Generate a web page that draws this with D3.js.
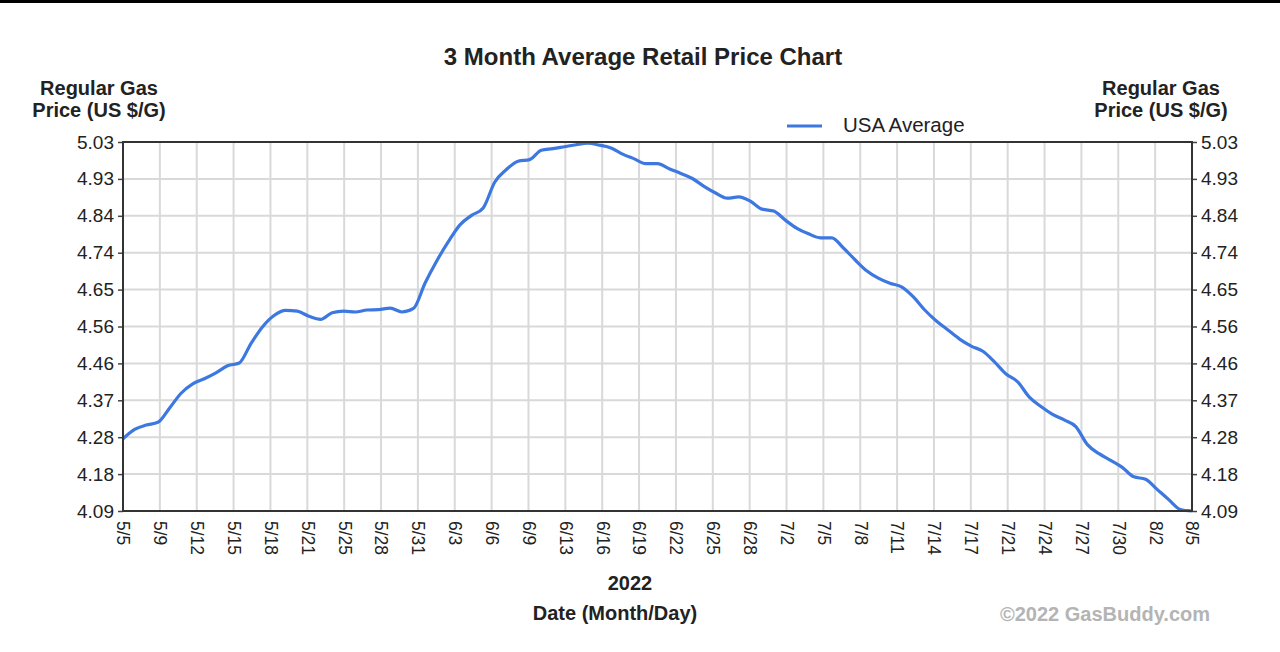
<!DOCTYPE html>
<html>
<head>
<meta charset="utf-8">
<script src="https://cdn.jsdelivr.net/npm/d3@7"></script>
<style>
  html, body { margin: 0; padding: 0; background: #fff; }
  svg { display: block; font-family: "Liberation Sans", Arial, sans-serif; }
</style>
</head>
<body>
<svg id="chart" width="1280" height="652"></svg>
<script>
"use strict"

// daily USA average regular gas price, 5/5/2022 .. 8/5/2022
const startDay = "2022-05-05"
const endDay = "2022-08-05"
const usaAverage = [
    4.274, 4.298, 4.309, 4.316, 4.352, 4.390, 4.414, 4.427, 4.442, 4.460,
    4.467, 4.516, 4.559, 4.588, 4.601, 4.599, 4.586, 4.578, 4.595, 4.599,
    4.597, 4.602, 4.603, 4.607, 4.597, 4.606, 4.671, 4.727, 4.776, 4.819,
    4.843, 4.862, 4.928, 4.960, 4.981, 4.985, 5.009, 5.013, 5.018, 5.023,
    5.027, 5.022, 5.015, 4.999, 4.987, 4.975, 4.975, 4.962, 4.950, 4.937,
    4.917, 4.900, 4.887, 4.890, 4.879, 4.859, 4.854, 4.831, 4.810, 4.796,
    4.786, 4.786, 4.760, 4.730, 4.702, 4.683, 4.670, 4.661, 4.636, 4.602,
    4.574, 4.551, 4.528, 4.510, 4.497, 4.470, 4.439, 4.419, 4.380, 4.356,
    4.336, 4.322, 4.305, 4.259, 4.236, 4.219, 4.201, 4.177, 4.171, 4.145,
    4.119, 4.094, 4.090
]

const xTickLabels = ["5/5", "5/9", "5/12", "5/15", "5/18", "5/21", "5/25", "5/28", "5/31",
    "6/3", "6/6", "6/9", "6/13", "6/16", "6/19", "6/22", "6/25", "6/28",
    "7/2", "7/5", "7/8", "7/11", "7/14", "7/17", "7/21", "7/24", "7/27", "7/30",
    "8/2", "8/5"]
const yTickLabels = ["4.09", "4.18", "4.28", "4.37", "4.46", "4.56", "4.65", "4.74", "4.84", "4.93", "5.03"]
const yDomain = [4.09, 5.03]

const plot = { left: 123, right: 1192, top: 142, bottom: 511 }

const parse = d3.timeParse("%Y-%m-%d")
const days = d3.timeDay.range(parse(startDay), d3.timeDay.offset(parse(endDay), 1))
const data = days.map((d, i) => ({ date: d, value: usaAverage[i] }))

const svg = d3.select("#chart")

// thin black band at the very top of the screenshot
svg.append("rect").attr("x", 0).attr("y", 0).attr("width", 1280).attr("height", 3).attr("fill", "#000")

const x = d3.scaleTime().domain([parse(startDay), parse(endDay)]).range([plot.left, plot.right])
const xTicks = d3.scalePoint().domain(xTickLabels).range([plot.left, plot.right])
const y = d3.scaleLinear().domain(yDomain).range([plot.bottom, plot.top])
const yTicks = d3.scalePoint().domain(yTickLabels).range([plot.bottom, plot.top])

// grid
const grid = svg.append("g").attr("stroke", "#d9d9d9").attr("stroke-width", 2)
grid.selectAll("line.v")
    .data(xTickLabels)
    .enter().append("line")
    .attr("x1", d => xTicks(d)).attr("x2", d => xTicks(d))
    .attr("y1", plot.top).attr("y2", plot.bottom)
grid.selectAll("line.h")
    .data(yTickLabels)
    .enter().append("line")
    .attr("x1", plot.left).attr("x2", plot.right)
    .attr("y1", d => yTicks(d)).attr("y2", d => yTicks(d))

// left / right axes
const leftAxis = svg.append("g")
    .attr("transform", "translate(" + plot.left + ",0)")
    .call(d3.axisLeft(yTicks).tickSize(5).tickSizeOuter(0).tickPadding(4))
const rightAxis = svg.append("g")
    .attr("transform", "translate(" + plot.right + ",0)")
    .call(d3.axisRight(yTicks).tickSize(5).tickSizeOuter(0).tickPadding(4))
;[leftAxis, rightAxis].forEach(a => {
    a.select(".domain").remove()
    a.selectAll("line").attr("stroke", "#444").attr("stroke-width", 1.5)
    a.selectAll("text").style("font-size", "19px").attr("fill", "#222")
        .style("font-family", "'Liberation Sans', Arial, sans-serif")
})

// bottom axis with rotated labels
const bottomAxis = svg.append("g")
    .attr("transform", "translate(0," + plot.bottom + ")")
    .call(d3.axisBottom(xTicks).tickSize(0).tickSizeOuter(0))
bottomAxis.select(".domain").remove()
bottomAxis.selectAll("text")
    .attr("transform", "rotate(90)")
    .attr("x", 10).attr("y", 0).attr("dy", "0.35em")
    .style("text-anchor", "start")
    .style("font-size", "17.5px")
    .style("font-family", "'Liberation Sans', Arial, sans-serif")
    .attr("fill", "#222")

// price line
const line = d3.line()
    .x(d => x(d.date))
    .y(d => y(d.value))
    .curve(d3.curveMonotoneX)
svg.append("path")
    .datum(data)
    .attr("fill", "none")
    .attr("stroke", "#3c78e0")
    .attr("stroke-width", 3.2)
    .attr("stroke-linejoin", "round")
    .attr("d", line)

// plot border
svg.append("rect")
    .attr("x", plot.left).attr("y", plot.top)
    .attr("width", plot.right - plot.left).attr("height", plot.bottom - plot.top)
    .attr("fill", "none").attr("stroke", "#333").attr("stroke-width", 2)

// titles
svg.append("text").attr("x", 643).attr("y", 65).attr("text-anchor", "middle")
    .style("font-size", "24px").style("font-weight", "bold").attr("fill", "#222")
    .text("3 Month Average Retail Price Chart")

const axisTitle = [["Regular Gas", 95], ["Price (US $/G)", 117]]
axisTitle.forEach(t => {
    svg.append("text").attr("x", 99).attr("y", t[1]).attr("text-anchor", "middle")
        .style("font-size", "20px").style("font-weight", "bold").attr("fill", "#222").text(t[0])
    svg.append("text").attr("x", 1161).attr("y", t[1]).attr("text-anchor", "middle")
        .style("font-size", "20px").style("font-weight", "bold").attr("fill", "#222").text(t[0])
})

// legend
svg.append("line").attr("x1", 787).attr("x2", 822).attr("y1", 126).attr("y2", 126)
    .attr("stroke", "#3c78e0").attr("stroke-width", 3.2)
svg.append("text").attr("x", 843).attr("y", 132)
    .style("font-size", "20.5px").attr("fill", "#222").text("USA Average")

// x titles
svg.append("text").attr("x", 630).attr("y", 590).attr("text-anchor", "middle")
    .style("font-size", "20px").style("font-weight", "bold").attr("fill", "#222").text("2022")
svg.append("text").attr("x", 615).attr("y", 620).attr("text-anchor", "middle")
    .style("font-size", "20px").style("font-weight", "bold").attr("fill", "#222").text("Date (Month/Day)")

svg.append("text").attr("x", 1210).attr("y", 621).attr("text-anchor", "end")
    .style("font-size", "20px").style("font-weight", "bold").attr("fill", "#b4b4b4").text("©2022 GasBuddy.com")
</script>
</body>
</html>
